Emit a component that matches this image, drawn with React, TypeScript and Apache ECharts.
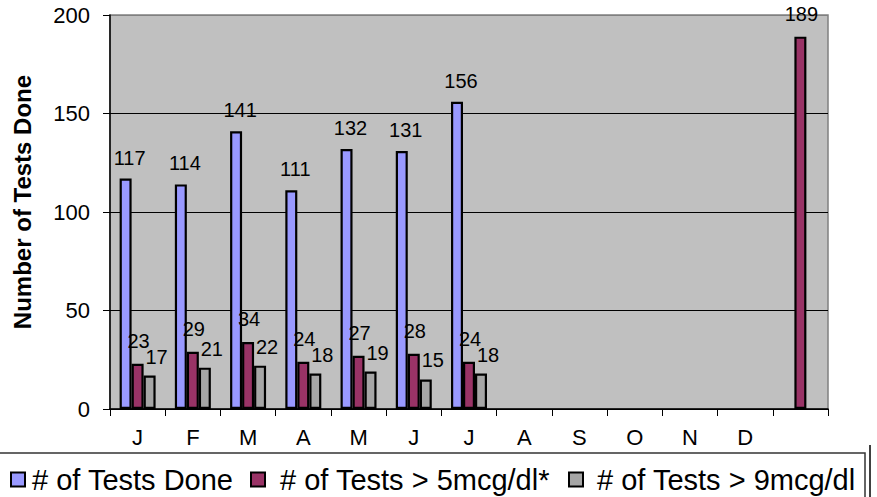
import React, { useEffect, useRef } from "react";
import * as echarts from "echarts";

const categories = ["J", "F", "M", "A", "M", "J", "J", "A", "S", "O", "N", "D", ""];
const seriesNames = ["# of Tests Done", "# of Tests > 5mcg/dl*", "# of Tests > 9mcg/dl"];
const testsDone = [117, 114, 141, 111, 132, 131, 156, null, null, null, null, null, null];
const testsOver5 = [23, 29, 34, 24, 27, 28, 24, null, null, null, null, null, 189];
const testsOver9 = [17, 21, 22, 18, 19, 15, 18, null, null, null, null, null, null];
const yTicks = { min: 0, max: 200, interval: 50 };
const yTitle = "Number of Tests Done";

const FONT = "'Liberation Sans', Arial, sans-serif";

export default function App() {
  const ref = useRef<HTMLDivElement>(null);
  useEffect(() => {
    if (!ref.current) return;
    const chart = echarts.init(ref.current, undefined, { renderer: "svg" });
    const colors = ["#9999FF", "#993366", "#A6A6A6"];
    const datas = [testsDone, testsOver5, testsOver9];
    const legendLefts = [10, 250, 568];
    const legendPads = [2, 10, 9];
    const labelDist = [11, 13, 9];
    const labelOffsets = [[4, 0], [1, 0], [7, 0]];
    chart.setOption({
      animation: false,
      textStyle: { fontFamily: FONT },
      grid: { left: 110, right: 49, top: 15, bottom: 88, show: true, backgroundColor: "#C0C0C0", borderColor: "#808080", borderWidth: 1.5 },
      legend: seriesNames.map((name, i) => ({
        left: legendLefts[i],
        top: 465,
        padding: 0,
        itemWidth: 14,
        itemHeight: 14,
        icon: "rect",
        textStyle: { fontSize: 29, color: "#000", fontFamily: FONT, padding: [0, 0, 0, legendPads[i]] },
        data: [name],
      })),
      graphic: [
        {
          type: "rect",
          shape: { x: -1, y: 453, width: 866, height: 60 },
          style: { fill: "none", stroke: "#333", lineWidth: 1.5 },
          silent: true,
        },
        {
          type: "line",
          shape: { x1: 870, y1: 445, x2: 870, y2: 497 },
          style: { stroke: "#000", lineWidth: 1.5 },
          silent: true,
        },
      ],
      xAxis: {
        type: "category",
        data: categories,
        axisLine: { lineStyle: { color: "#000", width: 1.5 } },
        axisTick: { show: true, length: 7, lineStyle: { color: "#000" } },
        axisLabel: { fontSize: 22, color: "#000", margin: 17, fontFamily: FONT },
      },
      yAxis: {
        type: "value",
        min: yTicks.min,
        max: yTicks.max,
        interval: yTicks.interval,
        name: yTitle,
        nameLocation: "middle",
        nameRotate: 90,
        nameGap: 76,
        nameTextStyle: { fontSize: 24, fontWeight: "bold", color: "#000", fontFamily: FONT, padding: [0, 0, 0, 20] },
        axisLine: { show: true, lineStyle: { color: "#000", width: 1.5 } },
        axisTick: { show: true, length: 7, lineStyle: { color: "#000" } },
        axisLabel: { fontSize: 22, color: "#000", margin: 20, fontFamily: FONT },
        splitLine: { show: true, lineStyle: { color: ["#000", "#000", "#000", "#000", "#808080"], width: 1 } },
      },
      series: seriesNames.map((name, i) => ({
        name,
        type: "bar",
        data: datas[i],
        barWidth: 12,
        barGap: "0%",
        itemStyle: { color: colors[i], borderColor: "#000", borderWidth: 2.2 },
        label: {
          show: true,
          position: "top",
          distance: labelDist[i],
          offset: labelOffsets[i],
          fontSize: 20,
          color: "#000",
          fontFamily: FONT,
        },
      })),
    });
    return () => chart.dispose();
  }, []);
  return (
    <div
      ref={ref}
      style={{ position: "fixed", left: 0, top: 0, width: 877, height: 497, background: "#fff" }}
    />
  );
}
